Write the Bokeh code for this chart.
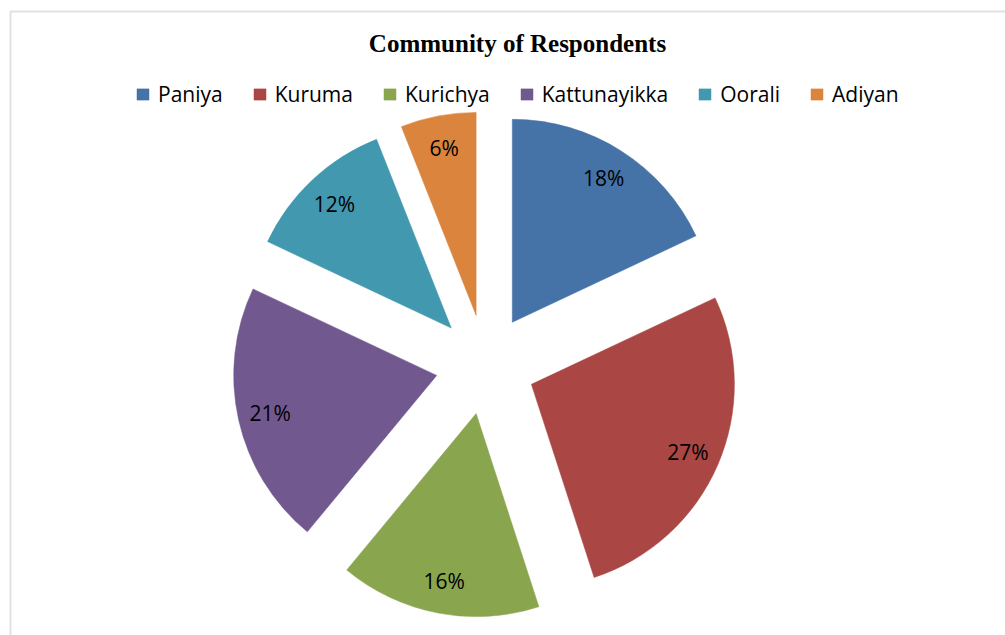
import math
from bokeh.plotting import figure
from bokeh.models import ColumnDataSource, Legend, LegendItem, Label, BoxAnnotation, Range1d
from bokeh.core.properties import value
from bokeh.embed import file_html
from bokeh.resources import INLINE

# ---- data ----
communities = ["Paniya", "Kuruma", "Kurichya", "Kattunayikka", "Oorali", "Adiyan"]
shares = [18, 27, 16, 21, 12, 6]
colors = ["#4572A7", "#AA4643", "#89A54E", "#71588F", "#4198AF", "#DB843D"]

# ---- layout ----
W, H = 1005, 635
CX, CY = 485, 271
R = 203
EXPLODE = 50
LABEL_FRAC = 0.84

total = float(sum(shares))
starts, ends, xs, ys, lx, ly, labels = [], [], [], [], [], [], []
cum = 0.0
for s in shares:
    a = cum / total
    b = (cum + s) / total
    cum += s
    mid = math.pi / 2 - 2 * math.pi * (a + b) / 2
    x0 = CX + EXPLODE * math.cos(mid)
    y0 = CY + EXPLODE * math.sin(mid)
    xs.append(x0)
    ys.append(y0)
    starts.append(math.pi / 2 - 2 * math.pi * b)
    ends.append(math.pi / 2 - 2 * math.pi * a)
    lx.append(x0 + LABEL_FRAC * R * math.cos(mid))
    ly.append(y0 + LABEL_FRAC * R * math.sin(mid))
    labels.append(f"{round(s / total * 100)}%")

src = ColumnDataSource(dict(x=xs, y=ys, start=starts, end=ends, color=colors,
                            name=communities, lx=lx, ly=ly, label=labels))

p = figure(width=W, height=H, output_backend="svg", toolbar_location=None,
           x_range=Range1d(0, W), y_range=Range1d(0, H),
           x_axis_location=None, y_axis_location=None, min_border=0)
p.outline_line_color = None
p.xgrid.visible = False
p.ygrid.visible = False
p.background_fill_color = "white"

# chart area border (left and top edges visible; right/bottom run off the page)
p.add_layout(BoxAnnotation(left=10, right=W + 30, bottom=-30, top=H - 11,
                           fill_alpha=0, line_color="#9a9a9a", line_width=2))

wedges = p.wedge(x="x", y="y", radius=R, start_angle="start", end_angle="end",
                 direction="anticlock", fill_color="color", line_color="color",
                 line_width=0.5, source=src)

p.text(x="lx", y="ly", text="label", source=src, text_font=value("Open Sans"),
       text_font_size=value("21px"), text_align="center", text_baseline="middle",
       text_color="#000000")

p.add_layout(Label(x=517, y=H - 43, text="Community of Respondents",
                   text_font="Liberation Serif", text_font_style="bold",
                   text_font_size="25px", text_align="center", text_baseline="middle",
                   text_color="#000000"))

items = [LegendItem(label=n, renderers=[wedges], index=i) for i, n in enumerate(communities)]
legend = Legend(items=items, orientation="horizontal", location=(135, 527),
                glyph_width=15, glyph_height=14, label_standoff=8, spacing=29,
                padding=0, margin=0, border_line_color=None,
                background_fill_alpha=0, label_text_font="Open Sans",
                label_text_font_size="21px", label_text_color="#000000")
p.add_layout(legend, "center")

open("out.html", "w").write(file_html(p, INLINE))
